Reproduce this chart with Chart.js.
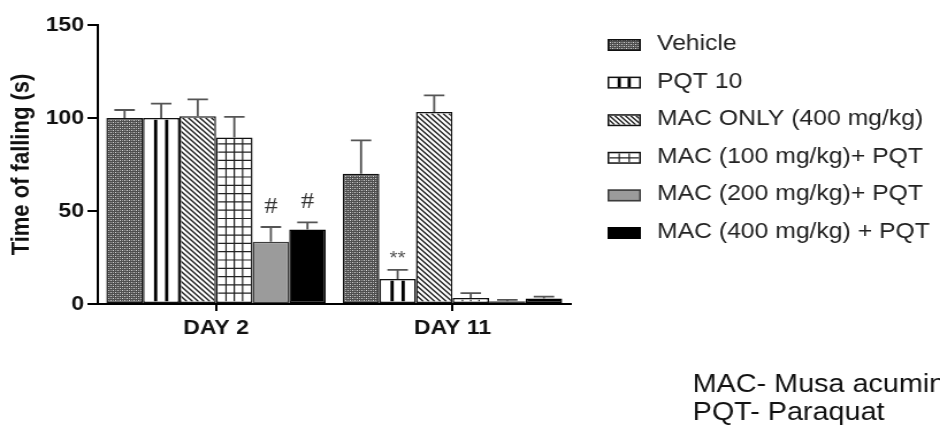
<!DOCTYPE html>
<html>
<head>
<meta charset="utf-8">
<script src="https://cdn.jsdelivr.net/npm/chart.js@4.4.1/dist/chart.umd.min.js"></script>
<style>
  html, body { margin: 0; padding: 0; background: #fff; overflow: hidden; width: 940px; height: 425px; }
  #wrap { position: absolute; left: 0; top: 0; width: 817px; height: 425px; transform: scaleX(1.1506); transform-origin: 0 0; }
  canvas { display: block; }
</style>
</head>
<body>
<div id="wrap"><canvas id="c" width="817" height="425" style="width:817px;height:425px"></canvas></div>
<script>
// Rotarod test: time of falling per treatment group
const categories = ['DAY 2', 'DAY 11'];
const seriesNames = [
  'Vehicle',
  'PQT 10',
  'MAC ONLY (400 mg/kg)',
  'MAC (100 mg/kg)+ PQT',
  'MAC (200 mg/kg)+ PQT',
  'MAC (400 mg/kg) + PQT'
];

// mean values (s)
const vehicle = [100, 70];
const pqt10   = [100, 13.5];
const macOnly = [101, 103.2];
const mac100  = [89.5, 3.2];
const mac200  = [33.5, 1.5];
const mac400  = [40, 3];

// upper error (SEM)
const vehicleErr = [4.3, 18];
const pqt10Err   = [7.7, 4.9];
const macOnlyErr = [9, 9];
const mac100Err  = [11.1, 2.6];
const mac200Err  = [7.9, 0.7];
const mac400Err  = [3.9, 1];

// significance marks
const vehicleMarks = ['', ''];
const pqt10Marks   = ['', '**'];
const macOnlyMarks = ['', ''];
const mac100Marks  = ['', ''];
const mac200Marks  = ['#', ''];
const mac400Marks  = ['#', ''];

const yTicks = [0, 50, 100, 150];
const yTitle = 'Time of falling (s)';
const footnotes = ['MAC- Musa acuminata', 'PQT- Paraquat'];

const values = [vehicle, pqt10, macOnly, mac100, mac200, mac400];
const errors = [vehicleErr, pqt10Err, macOnlyErr, mac100Err, mac200Err, mac400Err];
const marks  = [vehicleMarks, pqt10Marks, macOnlyMarks, mac100Marks, mac200Marks, mac400Marks];
const fillKinds = ['dots', 'vstripes', 'diag', 'grid', 'solid', 'solid'];

const SANS = '"Liberation Sans", Arial, Helvetica, sans-serif';
const SERIF = '"Liberation Serif", "Times New Roman", serif';

const canvas = document.getElementById('c');
const mainCtx = canvas.getContext('2d');

// fine dotted texture for the vehicle group
function makeDotPattern() {
  const t = document.createElement('canvas');
  t.width = 4; t.height = 4;
  const g = t.getContext('2d');
  g.fillStyle = '#4e4e4e'; g.fillRect(0, 0, 4, 4);
  g.fillStyle = '#dadada'; g.fillRect(0, 0, 1, 1); g.fillRect(2, 2, 1, 1);
  g.fillStyle = '#9c9c9c'; g.fillRect(2, 0, 1, 1); g.fillRect(0, 2, 1, 1);
  return mainCtx.createPattern(t, 'repeat');
}
const dotPattern = makeDotPattern();

const bgColors = [dotPattern, '#ffffff', '#ffffff', '#ffffff', '#9b9b9b', '#000000'];
const borderColors = ['#111111', '#111111', '#111111', '#111111', '#3c3c3c', '#000000'];

// hatching drawn inside a bar or legend box
function fillHatch(ctx, kind, l, t, w, h, small) {
  if (w <= 0 || h <= 0) return;
  ctx.save();
  ctx.beginPath(); ctx.rect(l, t, w, h); ctx.clip();
  if (kind === 'vstripes') {
    ctx.fillStyle = '#000';
    for (let k = 1; k < 3; k++) {
      const cx = l + w * k / 3;
      ctx.fillRect(cx - 1.4, t, 2.8, h);
    }
  } else if (kind === 'diag') {
    ctx.strokeStyle = '#222';
    ctx.lineWidth = 1.4;
    const step = small ? 4.6 : 5;
    ctx.beginPath();
    for (let s = l - h; s < l + w; s += step) {
      ctx.moveTo(s, t); ctx.lineTo(s + h, t + h);
    }
    ctx.stroke();
  } else if (kind === 'grid') {
    ctx.strokeStyle = '#222';
    ctx.lineWidth = 1.2;
    const cols = small ? 3 : 4;
    ctx.beginPath();
    for (let k = 1; k < cols; k++) {
      const cx = l + w * k / cols;
      ctx.moveTo(cx, t); ctx.lineTo(cx, t + h);
    }
    const step = small ? h / 2 : 8.3;
    for (let yy = t + h - step; yy > t + 0.5; yy -= step) {
      ctx.moveTo(l, yy); ctx.lineTo(l + w, yy);
    }
    ctx.stroke();
  }
  ctx.restore();
}

const overlay = {
  id: 'overlay',
  afterDatasetsDraw(chart) {
    const ctx = chart.ctx;
    const yScale = chart.scales.y;
    chart.data.datasets.forEach((ds, i) => {
      const meta = chart.getDatasetMeta(i);
      meta.data.forEach((bar) => {
        const p = bar.getProps(['x', 'y', 'base', 'width'], true);
        const bw = ds.borderWidth;
        fillHatch(ctx, fillKinds[i], p.x - p.width / 2 + bw, p.y + bw, p.width - 2 * bw, p.base - p.y - 2 * bw, false);
      });
    });
    // upper error bars with caps
    chart.data.datasets.forEach((ds, i) => {
      const meta = chart.getDatasetMeta(i);
      meta.data.forEach((bar, j) => {
        const p = bar.getProps(['x', 'y', 'width'], true);
        const topY = yScale.getPixelForValue(values[i][j] + errors[i][j]);
        const half = p.width * 0.28;
        ctx.save();
        ctx.strokeStyle = '#555';
        ctx.lineWidth = 1.8;
        ctx.beginPath();
        ctx.moveTo(p.x, p.y); ctx.lineTo(p.x, topY);
        ctx.moveTo(p.x - half, topY); ctx.lineTo(p.x + half, topY);
        ctx.stroke();
        ctx.restore();
        const m = marks[i][j];
        if (m) {
          ctx.save();
          ctx.textAlign = 'center';
          ctx.textBaseline = 'middle';
          if (m === '#') {
            ctx.fillStyle = '#333';
            ctx.font = '23px ' + SERIF;
            ctx.fillText(m, p.x, topY - 20);
          } else {
            ctx.fillStyle = '#555';
            ctx.font = '18px ' + SANS;
            ctx.fillText(m, p.x, topY - 11);
          }
          ctx.restore();
        }
      });
    });
  },
  afterDraw(chart) {
    const ctx = chart.ctx;
    // legend
    const lx = 528, bwid = 29, bh = 12, tx = 571, y0 = 44, dy = 37.6;
    chart.data.datasets.forEach((ds, i) => {
      const cy = y0 + i * dy;
      const top = cy - 5;
      ctx.save();
      ctx.fillStyle = ds.backgroundColor;
      ctx.fillRect(lx, top, bwid, bh);
      fillHatch(ctx, fillKinds[i], lx + 1.5, top + 1.5, bwid - 3, bh - 3, true);
      ctx.strokeStyle = ds.borderColor;
      ctx.lineWidth = 1.5;
      ctx.strokeRect(lx + 0.75, top + 0.75, bwid - 1.5, bh - 1.5);
      ctx.fillStyle = '#222';
      ctx.font = '21.5px ' + SANS;
      ctx.textAlign = 'left';
      ctx.textBaseline = 'middle';
      ctx.fillText(ds.label, tx, cy);
      ctx.restore();
    });
    // footnotes
    ctx.save();
    ctx.fillStyle = '#111';
    ctx.font = '25px ' + SANS;
    ctx.textAlign = 'left';
    ctx.textBaseline = 'alphabetic';
    footnotes.forEach((t, k) => ctx.fillText(t, 602, 392 + k * 28));
    ctx.restore();
  }
};

new Chart(canvas, {
  type: 'bar',
  data: {
    labels: categories,
    datasets: seriesNames.map((name, i) => ({
      label: name,
      data: values[i],
      backgroundColor: bgColors[i],
      borderColor: borderColors[i],
      borderWidth: 1.5,
      borderSkipped: false
    }))
  },
  options: {
    responsive: false,
    animation: false,
    devicePixelRatio: 1,
    layout: { padding: { left: 0, right: 321, top: 25, bottom: 0 } },
    plugins: { legend: { display: false }, tooltip: { enabled: false } },
    datasets: { bar: { categoryPercentage: 0.928, barPercentage: 1 } },
    scales: {
      x: {
        grid: { display: true, drawOnChartArea: false, drawTicks: true, tickLength: 7, tickWidth: 2, tickColor: '#000', lineWidth: 2, color: '#000', offset: false },
        border: { display: true, color: '#000', width: 2 },
        ticks: { color: '#111', font: { family: SANS, size: 20, weight: 'bold' }, padding: 5, maxRotation: 0, autoSkip: false },
        afterFit: s => { s.height = 121; }
      },
      y: {
        min: 0, max: 150,
        afterBuildTicks: s => { s.ticks = yTicks.map(v => ({ value: v })); },
        grid: { display: true, drawOnChartArea: false, drawTicks: true, tickLength: 9, tickWidth: 2, tickColor: '#000', lineWidth: 2, color: '#000' },
        border: { display: true, color: '#000', width: 2 },
        ticks: { color: '#111', font: { family: SANS, size: 20, weight: 'bold' }, padding: 3 },
        title: { display: true, text: yTitle, color: '#111', font: { family: SANS, size: 22, weight: 'bold' }, padding: { top: 6, bottom: 0 } },
        afterFit: s => { s.width = 85; }
      }
    }
  },
  plugins: [overlay]
});
</script>
</body>
</html>
